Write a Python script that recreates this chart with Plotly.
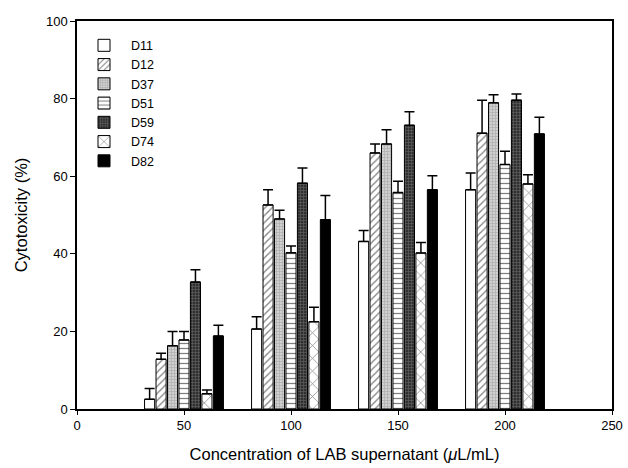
import plotly.graph_objects as go

concentrations = [50, 100, 150, 200]
series_names = ["D11", "D12", "D37", "D51", "D59", "D74", "D82"]

d11 = [2.5, 20.6, 43.2, 56.5]
d12 = [12.8, 52.6, 66.0, 71.1]
d37 = [16.3, 49.0, 68.3, 78.9]
d51 = [17.8, 40.3, 55.8, 63.0]
d59 = [32.7, 58.2, 73.1, 79.6]
d74 = [3.9, 22.5, 40.2, 58.0]
d82 = [18.8, 48.8, 56.5, 70.9]

d11_err = [2.8, 3.2, 2.8, 4.3]
d12_err = [1.6, 3.9, 2.3, 8.5]
d37_err = [3.7, 2.2, 3.7, 2.1]
d51_err = [2.2, 1.7, 2.9, 3.4]
d59_err = [3.2, 3.9, 3.5, 1.6]
d74_err = [1.0, 3.7, 2.7, 2.4]
d82_err = [2.8, 6.2, 3.6, 4.3]

values = [d11, d12, d37, d51, d59, d74, d82]
errors = [d11_err, d12_err, d37_err, d51_err, d59_err, d74_err, d82_err]

patterns = [
    dict(shape="", bgcolor="white"),
    dict(shape="/", fgcolor="black", bgcolor="white", size=5, solidity=0.25),
    dict(shape="+", fgcolor="#888888", bgcolor="#d0d0d0", size=3, solidity=0.4),
    dict(shape="-", fgcolor="black", bgcolor="white", size=5, solidity=0.25),
    dict(shape="+", fgcolor="#999999", bgcolor="#303030", size=3, solidity=0.35),
    dict(shape="x", fgcolor="black", bgcolor="white", size=9, solidity=0.15),
    dict(shape="", bgcolor="black"),
]
fills = ["white", "white", "#d0d0d0", "white", "#303030", "white", "black"]

fig = go.Figure()
for name, vals, errs, pat, fc in zip(series_names, values, errors, patterns, fills):
    marker = dict(color=fc, line=dict(color="black", width=1))
    if pat["shape"]:
        marker["pattern"] = pat
    fig.add_trace(go.Bar(
        x=concentrations, y=vals, name=name, marker=marker,
        error_y=dict(type="data", array=errs, arrayminus=[0] * len(errs),
                     symmetric=False, color="black", thickness=1.5, width=5),
    ))

font_family = "Liberation Sans, Arial, sans-serif"
fig.update_layout(
    width=628, height=468,
    margin=dict(l=77, r=16, t=21, b=59),
    barmode="group", bargap=0.25, bargroupgap=0.12,
    plot_bgcolor="white", paper_bgcolor="white",
    font=dict(family=font_family, size=13, color="black"),
    showlegend=True,
    legend=dict(x=0.0, y=0.975, xanchor="left", yanchor="top",
                bgcolor="rgba(0,0,0,0)", font=dict(size=12.5), itemwidth=44,
                tracegroupgap=0),
    xaxis=dict(range=[0, 250], dtick=50, tick0=0, showgrid=False, zeroline=False,
               showline=True, linecolor="black", linewidth=1.5, mirror=True,
               ticks="outside", ticklen=4, tickcolor="black", automargin=False,
               title=dict(text="Concentration of LAB supernatant (<i>μ</i>L/mL)",
                          font=dict(size=16.5), standoff=16)),
    yaxis=dict(range=[0, 100], dtick=20, tick0=0, showgrid=False, zeroline=False,
               showline=True, linecolor="black", linewidth=1.5, mirror=True,
               ticks="outside", ticklen=5, tickcolor="black", automargin=False,
               title=dict(text="Cytotoxicity (%)", font=dict(size=16.5), standoff=14)),
)

fig.write_html("out.html", config={"displayModeBar": False},
               post_script="document.body.style.margin='0';document.body.style.overflow='hidden';")
